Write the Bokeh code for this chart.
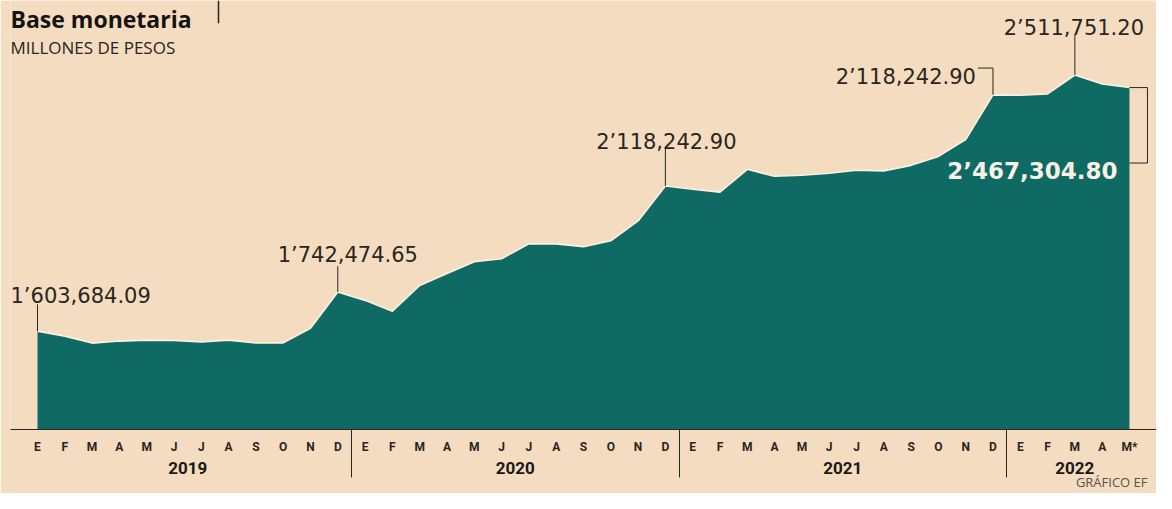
from bokeh.plotting import figure
from bokeh.models import (Range1d, LinearAxis, FixedTicker, CustomJSTickFormatter)
from bokeh.core.properties import value
from bokeh.embed import file_html
from bokeh.resources import INLINE

# ---------------- data ----------------
months = ["E", "F", "M", "A", "M", "J", "J", "A", "S", "O", "N", "D"] * 3 + ["E", "F", "M", "A", "M*"]
years = ["2019", "2020", "2021", "2022"]
year_centers = [5.5, 17.5, 29.5, 38]
year_breaks = [11.5, 23.5, 35.5]
credit_text = ["GR\u00c1FICO EF"]

base_2019 = [1603684.09, 1586000, 1561400, 1568500, 1572000, 1571000,
             1565000, 1572000, 1561500, 1562000, 1614000, 1742474.65]
base_2020 = [1712800, 1674100, 1765600, 1807800, 1850100, 1860600,
             1913400, 1913000, 1902900, 1924000, 1994400, 2118242.90]
base_2021 = [2107000, 2096500, 2177400, 2152800, 2156300, 2163400,
             2174000, 2172000, 2191500, 2223200, 2283000, 2441400]
base_2022 = [2440000, 2445000, 2511751.20, 2480000, 2467304.80]
values = base_2019 + base_2020 + base_2021 + base_2022
idx = list(range(len(values)))

ann_index = [0, 11, 23, 35, 38, 40]
ann_text = ["1\u2019603,684.09", "1\u2019742,474.65", "2\u2019118,242.90",
            "2\u2019118,242.90", "2\u2019511,751.20", "2\u2019467,304.80"]

# ---------------- layout / style ----------------
W, H = 1156, 493
BG = "#f3dcc0"
TEAL = "#0f6a63"
INK = "#2a2521"
XS, XE = -0.989, 40.99
YS, YE = 1255000, 2776000
FRAME_L, FRAME_W, FRAME_T, FRAME_H = 10, 1146, 0, 432
ux = (XE - XS) / FRAME_W
uy = (YE - YS) / FRAME_H


def X(px):
    return XS + (px - FRAME_L) * ux


def Y(py):
    return YE - (py - FRAME_T) * uy


p = figure(width=W, height=H, x_range=Range1d(XS, XE), y_range=Range1d(YS, YE),
           output_backend="svg", toolbar_location=None, title=None,
           min_border_left=10, min_border_right=0, min_border_top=0, min_border_bottom=61,
           x_axis_location=None, y_axis_location=None)
p.background_fill_color = BG
p.border_fill_color = BG
p.outline_line_color = None
p.grid.visible = False

# area
p.varea(x=idx, y1=[YS] * len(values), y2=values, fill_color=TEAL)
p.line(x=idx, y=values, line_color="#fbf2e4", line_width=1.6)

# month axis (year separators drawn as minor ticks)
month_axis = LinearAxis(
    ticker=FixedTicker(ticks=idx, minor_ticks=year_breaks),
    formatter=CustomJSTickFormatter(args=dict(labels=months),
                                    code="return labels[Math.round(tick)] || ''"),
    axis_line_color=INK, axis_line_width=1,
    major_tick_line_color=None, major_tick_in=0, major_tick_out=0,
    minor_tick_in=0, minor_tick_out=48, minor_tick_line_color=INK, minor_tick_line_width=1,
    major_label_standoff=-38,
    major_label_text_font="Roboto", major_label_text_font_style="bold",
    major_label_text_font_size="12px", major_label_text_color=INK)
p.add_layout(month_axis, "below")

year_axis = LinearAxis(
    ticker=FixedTicker(ticks=year_centers, minor_ticks=[]),
    formatter=CustomJSTickFormatter(args=dict(labels=years), code="return labels[index]"),
    axis_line_color=None, major_tick_line_color=None, minor_tick_line_color=None,
    major_tick_in=0, major_tick_out=0, major_label_standoff=5,
    major_label_text_font="Roboto", major_label_text_font_style="bold",
    major_label_text_font_size="17px", major_label_text_color="#1c1815")
p.add_layout(year_axis, "below")

credit_axis = LinearAxis(
    ticker=FixedTicker(ticks=[39.35], minor_ticks=[]),
    formatter=CustomJSTickFormatter(args=dict(labels=credit_text), code="return labels[index]"),
    axis_line_color=None, major_tick_line_color=None, minor_tick_line_color=None,
    major_tick_in=0, major_tick_out=0, major_label_standoff=-4,
    major_label_text_font="Open Sans", major_label_text_font_style="normal",
    major_label_text_font_size="13px", major_label_text_color="#5b524b")
p.add_layout(credit_axis, "below")

# headline
p.text(x=[X(10)], y=[Y(19)], text=["Base monetaria"], text_font=value("Open Sans"),
       text_font_style="bold", text_font_size="23px", text_color="#161311",
       text_baseline="alphabetic", text_align="left")
p.segment(x0=[X(218)], y0=[Y(0)], x1=[X(218)], y1=[Y(23)], line_color=INK, line_width=1.5)
p.text(x=[X(10)], y=[Y(47)], text=["MILLONES DE PESOS"], text_font=value("Open Sans"),
       text_font_size="17px", text_color=INK, text_baseline="alphabetic", text_align="left")

# annotation offsets in pixels: x shift, baseline above point, leader length
ann_dx = [-27, 10, 1, -17, -1, -12]
ann_dy = [35, 37, 44, 18, 47, -84]
lead_up = [27, 26, 39, 27, 41, 0]
ann_align = ["left", "center", "center", "right", "center", "right"]

av = [values[i] for i in ann_index]
for k in range(5):
    i = ann_index[k]
    p.text(x=[i + ann_dx[k] * ux], y=[av[k] + ann_dy[k] * uy], text=[ann_text[k]],
           text_font=value("DejaVu Sans"), text_font_size="21px", text_color=INK,
           text_baseline="alphabetic", text_align=ann_align[k])

# leaders
xs, ys = [], []
for k in [0, 1, 2, 4]:
    i = ann_index[k]
    xs.append([i, i])
    ys.append([av[k], av[k] + lead_up[k] * uy])
i = ann_index[3]
xs.append([i + (-15) * ux, i, i])
ys.append([av[3] + lead_up[3] * uy, av[3] + lead_up[3] * uy, av[3]])
i = ann_index[5]
xs.append([i, i + 18 * ux, i + 18 * ux, i])
ys.append([av[5], av[5], av[5] - 76 * uy, av[5] - 76 * uy])
p.multi_line(xs=xs, ys=ys, line_color=INK, line_width=1)

# last value, bold white
p.text(x=[ann_index[5] + ann_dx[5] * ux], y=[av[5] + ann_dy[5] * uy], text=[ann_text[5]],
       text_font=value("DejaVu Sans"), text_font_style="bold", text_font_size="23px",
       text_color="#f7f1e6", text_baseline="alphabetic", text_align="right")

open("out.html", "w").write(file_html(p, INLINE))
